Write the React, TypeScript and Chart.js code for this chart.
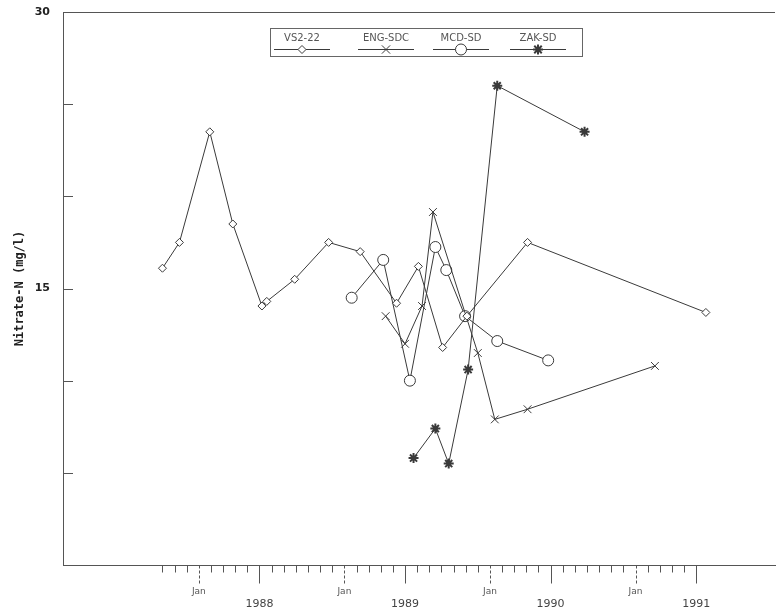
import React, { useEffect, useRef } from 'react';
import { Chart, registerables } from 'chart.js';

Chart.register(...registerables);

// x values: months since Jan 1988 (0 = Jan 1988)
const vs2Months = [-3.0, -1.6, 0.9, 2.8, 5.2, 5.6, 7.9, 10.7, 13.3, 16.3, 18.1, 20.1, 22.1, 27.1, 41.8];
const vs2Values = [16.1, 17.5, 23.5, 18.5, 14.05, 14.3, 15.5, 17.5, 17.0, 14.2, 16.2, 11.8, 13.5, 17.5, 13.7];

const engMonths = [15.4, 17.0, 18.4, 19.3, 23.0, 24.4, 27.1, 37.6];
const engValues = [13.5, 12.0, 14.05, 19.15, 11.5, 7.9, 8.45, 10.8];

const mcdMonths = [12.6, 15.2, 17.4, 19.5, 20.4, 21.95, 24.6, 28.8];
const mcdValues = [14.5, 16.55, 10.0, 17.25, 16.0, 13.5, 12.15, 11.1];

const zakMonths = [17.7, 19.5, 20.6, 22.2, 24.6, 31.8];
const zakValues = [5.8, 7.4, 5.5, 10.6, 26.0, 23.5];

const seriesLabels = ['VS2-22', 'ENG-SDC', 'MCD-SD', 'ZAK-SD'];
const seriesMarkers = ['rectRot', 'crossRot', 'circle', 'star'];

// axis ticks
const monthTickStart = -3;
const monthTickEnd = 41;
const janMonths = [0, 12, 24, 36];
const janLabel = 'Jan';
const yearTickMonths = [5, 17, 29, 41];
const yearLabels = ['1988', '1989', '1990', '1991'];
const yLabelValues = [15, 30];
const yMinorTicks = [5, 10, 15, 20, 25];
const yTitle = 'Nitrate-N (mg/l)';

const LINE = '#3a3a3a';
const AXIS = '#555';

function toPoints(xs: number[], ys: number[]) {
  return xs.map((x, i) => ({ x, y: ys[i] }));
}

function drawMarker(ctx: CanvasRenderingContext2D, style: string, x: number, y: number, r: number) {
  ctx.beginPath();
  if (style === 'circle') {
    ctx.arc(x, y, r, 0, Math.PI * 2);
    ctx.fillStyle = '#fff';
    ctx.fill();
    ctx.stroke();
  } else if (style === 'rectRot') {
    ctx.moveTo(x, y - r);
    ctx.lineTo(x + r, y);
    ctx.lineTo(x, y + r);
    ctx.lineTo(x - r, y);
    ctx.closePath();
    ctx.fillStyle = '#fff';
    ctx.fill();
    ctx.stroke();
  } else if (style === 'crossRot') {
    const d = r * 0.75;
    ctx.moveTo(x - d, y - d);
    ctx.lineTo(x + d, y + d);
    ctx.moveTo(x + d, y - d);
    ctx.lineTo(x - d, y + d);
    ctx.stroke();
  } else {
    const d = r * 0.75;
    ctx.moveTo(x - d, y - d);
    ctx.lineTo(x + d, y + d);
    ctx.moveTo(x + d, y - d);
    ctx.lineTo(x - d, y + d);
    ctx.moveTo(x, y - r);
    ctx.lineTo(x, y + r);
    ctx.moveTo(x - r, y);
    ctx.lineTo(x + r, y);
    ctx.stroke();
  }
}

const decorPlugin = {
  id: 'decor',
  afterDraw(chart: any) {
    const { ctx, chartArea, scales } = chart;
    const xs = scales.x;
    const ys = scales.y;
    ctx.save();
    ctx.strokeStyle = AXIS;
    ctx.lineWidth = 1;

    // top frame line
    ctx.beginPath();
    ctx.moveTo(chartArea.left, Math.round(chartArea.top) + 0.5);
    ctx.lineTo(chartArea.right, Math.round(chartArea.top) + 0.5);
    ctx.stroke();

    // inward y ticks
    yMinorTicks.forEach((v) => {
      const py = Math.round(ys.getPixelForValue(v)) + 0.5;
      ctx.beginPath();
      ctx.moveTo(chartArea.left, py);
      ctx.lineTo(chartArea.left + 10, py);
      ctx.stroke();
    });

    // x month ticks
    const base = Math.round(chartArea.bottom) + 0.5;
    for (let m = monthTickStart; m <= monthTickEnd; m++) {
      const px = Math.round(xs.getPixelForValue(m)) + 0.5;
      let len = 7;
      ctx.setLineDash([]);
      if (janMonths.includes(m)) {
        len = 20;
        ctx.setLineDash([3, 2]);
      } else if (yearTickMonths.includes(m)) {
        len = 18;
      }
      ctx.beginPath();
      ctx.moveTo(px, base);
      ctx.lineTo(px, base + len);
      ctx.stroke();
    }
    ctx.setLineDash([]);

    // x labels
    ctx.textAlign = 'center';
    ctx.textBaseline = 'middle';
    ctx.fillStyle = '#555';
    ctx.font = '9px "DejaVu Sans"';
    janMonths.forEach((m) => {
      ctx.fillText(janLabel, xs.getPixelForValue(m), 592);
    });
    ctx.font = '11px "DejaVu Sans"';
    ctx.fillStyle = '#444';
    yearTickMonths.forEach((m, i) => {
      ctx.fillText(yearLabels[i], xs.getPixelForValue(m), 604);
    });

    // legend
    const boxL = 270.5, boxT = 28.5, boxW = 312, boxH = 28;
    ctx.strokeStyle = '#666';
    ctx.strokeRect(boxL, boxT, boxW, boxH);
    const centers = [302, 386, 461, 538];
    chart.data.datasets.forEach((ds: any, i: number) => {
      const cx = centers[i];
      ctx.fillStyle = '#555';
      ctx.font = '10px "DejaVu Sans"';
      ctx.textAlign = 'center';
      ctx.textBaseline = 'middle';
      ctx.fillText(ds.label, cx, 38);
      ctx.strokeStyle = LINE;
      ctx.lineWidth = 1;
      ctx.beginPath();
      ctx.moveTo(cx - 28, 49.5);
      ctx.lineTo(cx + 28, 49.5);
      ctx.stroke();
      ctx.lineWidth = ds.pointBorderWidth || 1;
      drawMarker(ctx, ds.pointStyle, cx, 49.5, ds.pointRadius);
    });
    ctx.restore();
  },
};

export default function App() {
  const ref = useRef<HTMLCanvasElement | null>(null);

  useEffect(() => {
    if (!ref.current) return;
    const mk = (i: number, xs: number[], ys: number[], radius: number, bw: number) => ({
      label: seriesLabels[i],
      data: toPoints(xs, ys),
      showLine: true,
      borderColor: LINE,
      borderWidth: 1,
      pointStyle: seriesMarkers[i],
      pointRadius: radius,
      pointBorderWidth: bw,
      pointBorderColor: LINE,
      pointBackgroundColor: '#fff',
      tension: 0,
    });
    const chart = new Chart(ref.current, {
      type: 'scatter',
      data: {
        datasets: [
          mk(0, vs2Months, vs2Values, 4, 1),
          mk(1, engMonths, engValues, 5.5, 1),
          mk(2, mcdMonths, mcdValues, 5.5, 1),
          mk(3, zakMonths, zakValues, 5, 2),
        ] as any,
      },
      options: {
        responsive: false,
        animation: false,
        layout: { autoPadding: false, padding: { top: 12, right: 5, left: 0, bottom: 0 } },
        plugins: { legend: { display: false }, tooltip: { enabled: false } },
        scales: {
          x: {
            type: 'linear',
            min: -11.2,
            max: 47.5,
            grid: { display: false },
            ticks: { display: false },
            border: { display: true, color: AXIS, width: 1 },
            afterFit: (s: any) => { s.height = 48; s.paddingLeft = 0; s.paddingRight = 0; },
          },
          y: {
            type: 'linear',
            min: 0,
            max: 30,
            afterBuildTicks: (s: any) => { s.ticks = yLabelValues.map((v) => ({ value: v })); },
            grid: { display: false, drawTicks: false },
            border: { display: true, color: AXIS, width: 1 },
            ticks: {
              padding: 13,
              color: '#222',
              font: { family: '"DejaVu Sans"', size: 11, weight: 'bold' },
              callback: (v: any) => String(v),
            },
            title: {
              display: true,
              text: yTitle,
              color: '#222',
              font: { family: '"DejaVu Sans Mono"', size: 12, weight: 'bold' },
              padding: { top: 13, bottom: 0 },
            },
            afterFit: (s: any) => { s.width = 63; s.paddingTop = 0; s.paddingBottom = 0; },
          },
        },
      } as any,
      plugins: [decorPlugin],
    });
    return () => chart.destroy();
  }, []);

  return (
    <div style={{ position: 'absolute', left: 0, top: 0, width: 780, height: 613, background: '#fff' }}>
      <canvas ref={ref} width={780} height={613} />
    </div>
  );
}
